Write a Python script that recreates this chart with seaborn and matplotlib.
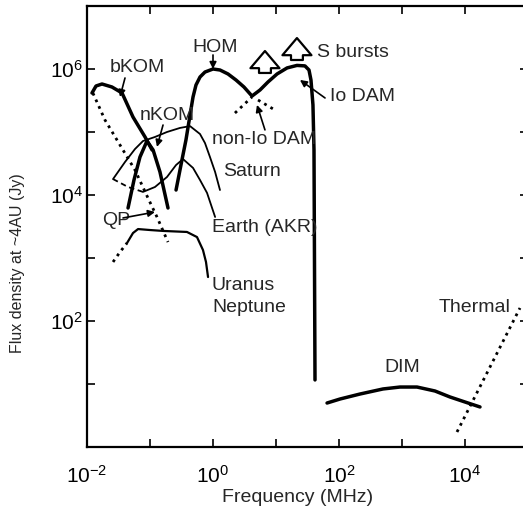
import math
import matplotlib
matplotlib.use("Agg")
import matplotlib.pyplot as plt
import seaborn as sns
from matplotlib.ticker import FixedLocator, FuncFormatter, NullLocator

# frequency in MHz, flux density at ~4 AU in Jy
bkom_f = [0.0120, 0.0139, 0.0173, 0.0249, 0.0360, 0.0537, 0.0834, 0.108]
bkom_s = [4.16e5, 5.37e5, 5.78e5, 5.18e5, 4.16e5, 1.73e5, 8.34e4, 5.18e4]

nkom_f = [0.0448, 0.0557, 0.0693, 0.0895, 0.112, 0.144, 0.193]
nkom_s = [6.22e3, 1.73e4, 4.01e4, 7.19e4, 5.18e4, 2.32e4, 6.22e3]

qp_f = [0.0124, 0.0193, 0.0334, 0.0578, 0.0929, 0.129, 0.193]
qp_s = [4.16e5, 1.55e5, 6.22e4, 2.49e4, 8.95e3, 4.48e3, 1.79e3]

earth_low_f = [0.0259, 0.0448, 0.0774]
earth_low_s = [1.79e4, 1.34e4, 1.12e4]
earth_f = [0.0774, 0.120, 0.186, 0.259, 0.334, 0.482, 0.622, 0.804, 1.08]
earth_s = [1.12e4, 1.34e4, 1.93e4, 2.99e4, 3.72e4, 2.69e4, 1.73e4, 1.08e4, 4.48e3]

saturn_f = [0.0259, 0.0401, 0.0578, 0.0774, 0.120, 0.186, 0.299, 0.432,
            0.622, 0.746, 0.895, 1.08, 1.29]
saturn_s = [1.79e4, 3.34e4, 5.37e4, 7.19e4, 8.34e4, 1.0e5, 1.16e5, 1.24e5,
            9.29e4, 6.68e4, 4.01e4, 2.32e4, 1.2e4]

un_low_f = [0.0259, 0.0334, 0.0432]
un_low_s = [865, 1245, 1730]
un_f = [0.0432, 0.0537, 0.0646, 0.1, 0.161, 0.386, 0.557, 0.693, 0.774, 0.834]
un_s = [1730, 2490, 2880, 2780, 2690, 2590, 2150, 1340, 865, 499]

hom_dam_f = [0.259, 0.310, 0.372, 0.432, 0.482, 0.537, 0.622, 0.746, 1.0,
             1.29, 1.73, 2.32, 3.10, 4.16, 5.57, 7.46, 10.4, 15.0, 21.5,
             28.8, 33.4, 35.9, 38.6, 40.1, 41.6]
hom_dam_s = [1.2e4, 2.99e4, 7.46e4, 1.86e5, 3.6e5, 5.57e5, 7.46e5, 8.95e5, 1.0e6,
             9.64e5, 8.34e5, 6.68e5, 5.18e5, 3.72e5, 4.64e5, 6.22e5, 8.34e5,
             1.04e6, 1.14e6, 1.12e6, 9.64e5, 6.68e5, 2.69e5, 5.18e4, 11.6]

nonio_left_f = [2.23, 4.16]
nonio_left_s = [2.0e5, 3.6e5]
nonio_right_f = [5.18, 9.64]
nonio_right_s = [3.22e5, 2.23e5]

dim_f = [64.6, 104, 215, 499, 929, 1730, 3340, 5780, 10000, 17300]
dim_s = [4.99, 5.78, 6.93, 8.34, 8.95, 8.95, 7.74, 6.22, 5.18, 4.32]

thermal_f = [7460, 74600]
thermal_s = [1.73, 161]

x_decades = list(range(-2, 6))
y_decades = list(range(0, 8))
x_labelled = [-2, 0, 2, 4]
y_labelled = [2, 4, 6]

sns.set_style("ticks")
plt.rcParams["font.family"] = ["Liberation Sans", "DejaVu Sans"]

fig = plt.figure(figsize=(5.23, 5.19), dpi=100)
ax = fig.add_axes([87 / 523, 72 / 519, 441 / 523, 441 / 519])
ax.set_xscale("log")
ax.set_yscale("log")

thick = dict(color="black", lw=2.5, estimator=None, sort=False, ax=ax)
thin = dict(color="black", lw=1.3, estimator=None, sort=False, ax=ax)
dots = dict(color="black", lw=2.0, estimator=None, sort=False, ax=ax,
            linestyle=(0, (1, 1.6)))

sns.lineplot(x=bkom_f, y=bkom_s, **thick)
sns.lineplot(x=nkom_f, y=nkom_s, **thick)
sns.lineplot(x=hom_dam_f, y=hom_dam_s, **thick)
sns.lineplot(x=dim_f, y=dim_s, **thick)
sns.lineplot(x=saturn_f, y=saturn_s, **thin)
sns.lineplot(x=earth_f, y=earth_s, **thin)
sns.lineplot(x=earth_low_f, y=earth_low_s, color="black", lw=1.3,
             estimator=None, sort=False, ax=ax, linestyle=(0, (3, 2)))
sns.lineplot(x=un_f, y=un_s, color="black", lw=1.6, estimator=None, sort=False, ax=ax)
sns.lineplot(x=un_low_f, y=un_low_s, **dots)
sns.lineplot(x=qp_f, y=qp_s, **dots)
sns.lineplot(x=nonio_left_f, y=nonio_left_s, **dots)
sns.lineplot(x=nonio_right_f, y=nonio_right_s, **dots)
sns.lineplot(x=thermal_f, y=thermal_s, **dots)

ax.set_xlim(1e-2, 1e5)
ax.set_ylim(1, 1e7)


def decade_label(keep):
    def f(v, pos):
        k = round(math.log10(v))
        return r"$\mathdefault{10^{%d}}$" % k if k in keep else ""
    return FuncFormatter(f)


ax.xaxis.set_major_locator(FixedLocator([10.0 ** k for k in x_decades]))
ax.yaxis.set_major_locator(FixedLocator([10.0 ** k for k in y_decades]))
ax.xaxis.set_minor_locator(NullLocator())
ax.yaxis.set_minor_locator(NullLocator())
ax.xaxis.set_major_formatter(decade_label(x_labelled))
ax.yaxis.set_major_formatter(decade_label(y_labelled))
ax.tick_params(direction="in", length=6, width=1.2, top=True, right=True,
               labelsize=15, colors="black")
ax.tick_params(axis="x", pad=13)
ax.tick_params(axis="y", pad=3)
for sp in ax.spines.values():
    sp.set_linewidth(1.6)
    sp.set_color("black")

ax.set_xlabel("Frequency (MHz)", fontsize=14)
ax.set_ylabel("Flux density at ~4AU (Jy)", fontsize=11.5)
ax.xaxis.set_label_coords(0.478, -0.095)
ax.yaxis.set_label_coords(-0.14, 0.417)

fs = 14
ax.text(0.0232, 1.04e6, "bKOM", fontsize=fs, va="center")
ax.text(0.0693, 1.86e5, "nKOM", fontsize=fs, va="center")
ax.text(1.08, 2.23e6, "HOM", fontsize=fs, ha="center", va="center")
ax.text(44.8, 1.86e6, "S bursts", fontsize=fs, va="center")
ax.text(72.0, 3.6e5, "Io DAM", fontsize=fs, va="center")
ax.text(0.964, 7.74e4, "non-Io DAM", fontsize=fs, va="center")
ax.text(1.44, 2.4e4, "Saturn", fontsize=fs, va="center")
ax.text(0.964, 3.0e3, "Earth (AKR)", fontsize=fs, va="center")
ax.text(0.0173, 4.0e3, "QP", fontsize=fs, va="center")
ax.text(0.964, 372, "Uranus", fontsize=fs, va="center")
ax.text(0.964, 161, "Neptune", fontsize=fs, va="center")
ax.text(1000, 18, "DIM", fontsize=fs, ha="center", va="center")
ax.text(51800, 161, "Thermal", fontsize=fs, ha="right", va="center")

arrow = dict(arrowstyle="-|>", lw=1.2, color="black", mutation_scale=10,
             shrinkA=0, shrinkB=0)
ax.annotate("", xy=(0.0334, 3.6e5), xytext=(0.0401, 7.2e5), arrowprops=arrow)
ax.annotate("", xy=(0.129, 5.8e4), xytext=(0.161, 1.29e5), arrowprops=arrow)
ax.annotate("", xy=(1.0, 1.0e6), xytext=(1.0, 1.67e6), arrowprops=arrow)
ax.annotate("", xy=(24.0, 6.7e5), xytext=(60.0, 3.47e5), arrowprops=arrow)
ax.annotate("", xy=(4.99, 2.69e5), xytext=(6.68, 1.08e5), arrowprops=arrow)
ax.annotate("", xy=(0.12, 5.37e3), xytext=(0.0373, 4.32e3), arrowprops=arrow)

hollow = dict(arrowstyle="simple,head_width=1.1,head_length=0.65,tail_width=0.45",
              fc="white", ec="black", lw=1.6, mutation_scale=19,
              shrinkA=0, shrinkB=0)
ax.annotate("", xy=(6.68, 1.93e6), xytext=(6.68, 8.65e5), arrowprops=hollow)
ax.annotate("", xy=(21.5, 3.1e6), xytext=(21.5, 1.39e6), arrowprops=hollow)

fig.savefig("out.png", dpi=100)
